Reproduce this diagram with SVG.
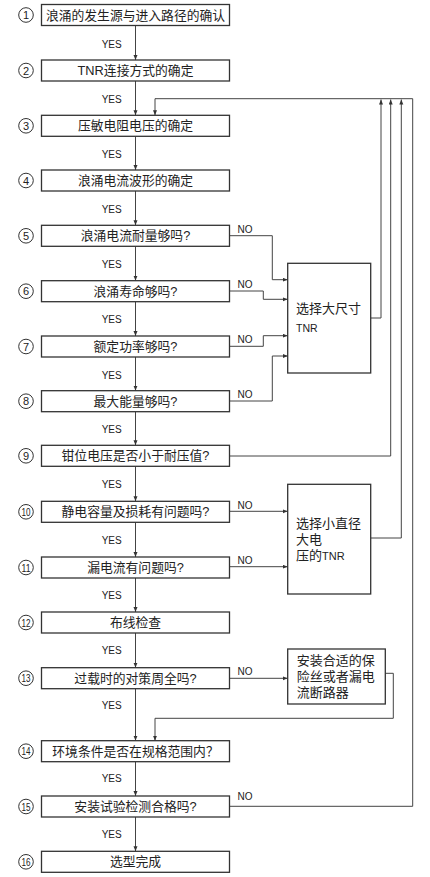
<svg xmlns="http://www.w3.org/2000/svg" width="430" height="877" viewBox="0 0 430 877">
<style>
.bx{fill:#fff;stroke:#333;stroke-width:1.3}
.t{font-family:"Liberation Sans","Noto Sans CJK SC",sans-serif;font-size:12.8px;fill:#222;text-anchor:middle}
.tl{font-family:"Liberation Sans","Noto Sans CJK SC",sans-serif;font-size:13px;fill:#222}
.lb{font-family:"Liberation Sans",Arial,sans-serif;font-size:10px;fill:#222;text-anchor:middle}
.cn{fill:none;stroke:#333;stroke-width:1}
.num{font-family:"Liberation Sans Narrow","Liberation Sans",sans-serif;font-size:11px;fill:#222;text-anchor:middle}
.ln{fill:none;stroke:#444;stroke-width:1}
</style>
<defs>
<marker id="ah" markerUnits="userSpaceOnUse" markerWidth="6" markerHeight="5" refX="5" refY="2" orient="auto">
<path d="M0,0 L5,2 L0,4 z" fill="#333"/>
</marker>
</defs>
<g id="connectors" class="ln" marker-end="url(#ah)">
<path d="M135.5,25.5 V60"/>
<path d="M135.5,81 V115.3"/>
<path d="M135.5,136.3 V170"/>
<path d="M135.5,191 V225.3"/>
<path d="M135.5,246.3 V280.7"/>
<path d="M135.5,301.7 V336"/>
<path d="M135.5,357 V390.7"/>
<path d="M135.5,411.7 V445.3"/>
<path d="M135.5,466.3 V501.3"/>
<path d="M135.5,522.3 V557"/>
<path d="M135.5,578 V612"/>
<path d="M135.5,633 V667.7"/>
<path d="M135.5,688.7 V740.7"/>
<path d="M135.5,761.7 V796"/>
<path d="M135.5,817 V851.3"/>
<path d="M229.5,235.7 H272.3 V279.7 H287.7"/>
<path d="M229.5,291 H263.3 V299.3 H287.7"/>
<path d="M229.5,346.3 H263.3 V335.7 H287.7"/>
<path d="M229.5,401 H272.3 V356 H287.7"/>
<path d="M370.7,318 H381 V99.5"/>
<path d="M229.5,456 H390.7 V99.5"/>
<path d="M370.7,538 H401.3 V99.5"/>
<path d="M229.5,806.3 H412.7 V98.7 H155 V115.3"/>
<path d="M229.5,511.3 H287.7"/>
<path d="M229.5,566.7 H287.7"/>
<path d="M229.5,678.3 H287.7"/>
<path d="M385.3,673.3 H393.3 V718.3 H155 V740.7"/>
</g>
<g id="labels">
<text class="lb" x="111.7" y="47.5">YES</text>
<text class="lb" x="111.7" y="102.5">YES</text>
<text class="lb" x="111.7" y="157.5">YES</text>
<text class="lb" x="111.7" y="212.5">YES</text>
<text class="lb" x="111.7" y="267.5">YES</text>
<text class="lb" x="111.7" y="323">YES</text>
<text class="lb" x="111.7" y="378.5">YES</text>
<text class="lb" x="111.7" y="432.5">YES</text>
<text class="lb" x="111.7" y="488">YES</text>
<text class="lb" x="111.7" y="543.5">YES</text>
<text class="lb" x="111.7" y="599">YES</text>
<text class="lb" x="111.7" y="654">YES</text>
<text class="lb" x="111.7" y="709">YES</text>
<text class="lb" x="111.7" y="782">YES</text>
<text class="lb" x="111.7" y="838">YES</text>
<text class="lb" x="245" y="232.5">NO</text>
<text class="lb" x="245" y="287.5">NO</text>
<text class="lb" x="245" y="342.5">NO</text>
<text class="lb" x="245" y="397.5">NO</text>
<text class="lb" x="245" y="508.5">NO</text>
<text class="lb" x="245" y="564">NO</text>
<text class="lb" x="245" y="675">NO</text>
<text class="lb" x="245" y="800">NO</text>
</g>
<g id="n1"><circle class="cn" cx="26" cy="15" r="7.3"/><text class="num" x="26" y="19">1</text><rect class="bx" x="41.5" y="4.5" width="188" height="21"/><text class="t" x="135.5" y="19.5">浪涌的发生源与进入路径的确认</text></g>
<g id="n2"><circle class="cn" cx="26" cy="70.5" r="7.3"/><text class="num" x="26" y="74.5">2</text><rect class="bx" x="41.5" y="60" width="188" height="21"/><text class="t" x="135.5" y="75">TNR连接方式的确定</text></g>
<g id="n3"><circle class="cn" cx="26" cy="125.8" r="7.3"/><text class="num" x="26" y="129.8">3</text><rect class="bx" x="41.5" y="115.3" width="188" height="21"/><text class="t" x="135.5" y="130.3">压敏电阻电压的确定</text></g>
<g id="n4"><circle class="cn" cx="26" cy="180.5" r="7.3"/><text class="num" x="26" y="184.5">4</text><rect class="bx" x="41.5" y="170" width="188" height="21"/><text class="t" x="135.5" y="185">浪涌电流波形的确定</text></g>
<g id="n5"><circle class="cn" cx="26" cy="235.8" r="7.3"/><text class="num" x="26" y="239.8">5</text><rect class="bx" x="41.5" y="225.3" width="188" height="21"/><text class="t" x="135.5" y="240.3">浪涌电流耐量够吗?</text></g>
<g id="n6"><circle class="cn" cx="26" cy="291.2" r="7.3"/><text class="num" x="26" y="295.2">6</text><rect class="bx" x="41.5" y="280.7" width="188" height="21"/><text class="t" x="135.5" y="295.7">浪涌寿命够吗?</text></g>
<g id="n7"><circle class="cn" cx="26" cy="346.5" r="7.3"/><text class="num" x="26" y="350.5">7</text><rect class="bx" x="41.5" y="336" width="188" height="21"/><text class="t" x="135.5" y="351">额定功率够吗?</text></g>
<g id="n8"><circle class="cn" cx="26" cy="401.2" r="7.3"/><text class="num" x="26" y="405.2">8</text><rect class="bx" x="41.5" y="390.7" width="188" height="21"/><text class="t" x="135.5" y="405.7">最大能量够吗?</text></g>
<g id="n9"><circle class="cn" cx="26" cy="455.8" r="7.3"/><text class="num" x="26" y="459.8">9</text><rect class="bx" x="41.5" y="445.3" width="188" height="21"/><text class="t" x="135.5" y="460.3">钳位电压是否小于耐压值?</text></g>
<g id="n10"><circle class="cn" cx="26" cy="511.8" r="7.3"/><text class="num" x="26" y="515.8" textLength="9" lengthAdjust="spacingAndGlyphs">10</text><rect class="bx" x="41.5" y="501.3" width="188" height="21"/><text class="t" x="135.5" y="516.3">静电容量及损耗有问题吗?</text></g>
<g id="n11"><circle class="cn" cx="26" cy="567.5" r="7.3"/><text class="num" x="26" y="571.5" textLength="9" lengthAdjust="spacingAndGlyphs">11</text><rect class="bx" x="41.5" y="557" width="188" height="21"/><text class="t" x="135.5" y="572">漏电流有问题吗?</text></g>
<g id="n12"><circle class="cn" cx="26" cy="622.5" r="7.3"/><text class="num" x="26" y="626.5" textLength="9" lengthAdjust="spacingAndGlyphs">12</text><rect class="bx" x="41.5" y="612" width="188" height="21"/><text class="t" x="135.5" y="627">布线检查</text></g>
<g id="n13"><circle class="cn" cx="26" cy="678.2" r="7.3"/><text class="num" x="26" y="682.2" textLength="9" lengthAdjust="spacingAndGlyphs">13</text><rect class="bx" x="41.5" y="667.7" width="188" height="21"/><text class="t" x="135.5" y="682.7">过载时的对策周全吗?</text></g>
<g id="n14"><circle class="cn" cx="26" cy="751.2" r="7.3"/><text class="num" x="26" y="755.2" textLength="9" lengthAdjust="spacingAndGlyphs">14</text><rect class="bx" x="41.5" y="740.7" width="188" height="21"/><text class="t" x="135.5" y="755.7">环境条件是否在规格范围内？</text></g>
<g id="n15"><circle class="cn" cx="26" cy="806.5" r="7.3"/><text class="num" x="26" y="810.5" textLength="9" lengthAdjust="spacingAndGlyphs">15</text><rect class="bx" x="41.5" y="796" width="188" height="21"/><text class="t" x="135.5" y="811">安装试验检测合格吗?</text></g>
<g id="n16"><circle class="cn" cx="26" cy="861.8" r="7.3"/><text class="num" x="26" y="865.8" textLength="9" lengthAdjust="spacingAndGlyphs">16</text><rect class="bx" x="41.5" y="851.3" width="188" height="21"/><text class="t" x="135.5" y="866.3">选型完成</text></g>
<g id="bigTNR"><rect class="bx" x="287.7" y="263.3" width="83" height="109.7"/><text class="tl" x="296" y="313">选择大尺寸</text><text class="tl" x="296" y="332" style="font-size:10.5px">TNR</text></g>
<g id="smallTNR"><rect class="bx" x="287.7" y="484.3" width="83" height="109.7"/><text class="tl" x="296" y="528">选择小直径</text><text class="tl" x="296" y="544">大电</text><text class="tl" x="296" y="560">压的<tspan style="font-size:11px">TNR</tspan></text></g>
<g id="fuse"><rect class="bx" x="287.7" y="649" width="97.6" height="55"/><text class="tl" x="296.7" y="665">安装合适的保</text><text class="tl" x="296.7" y="680.7">险丝或者漏电</text><text class="tl" x="296.7" y="696.7">流断路器</text></g>
</svg>
